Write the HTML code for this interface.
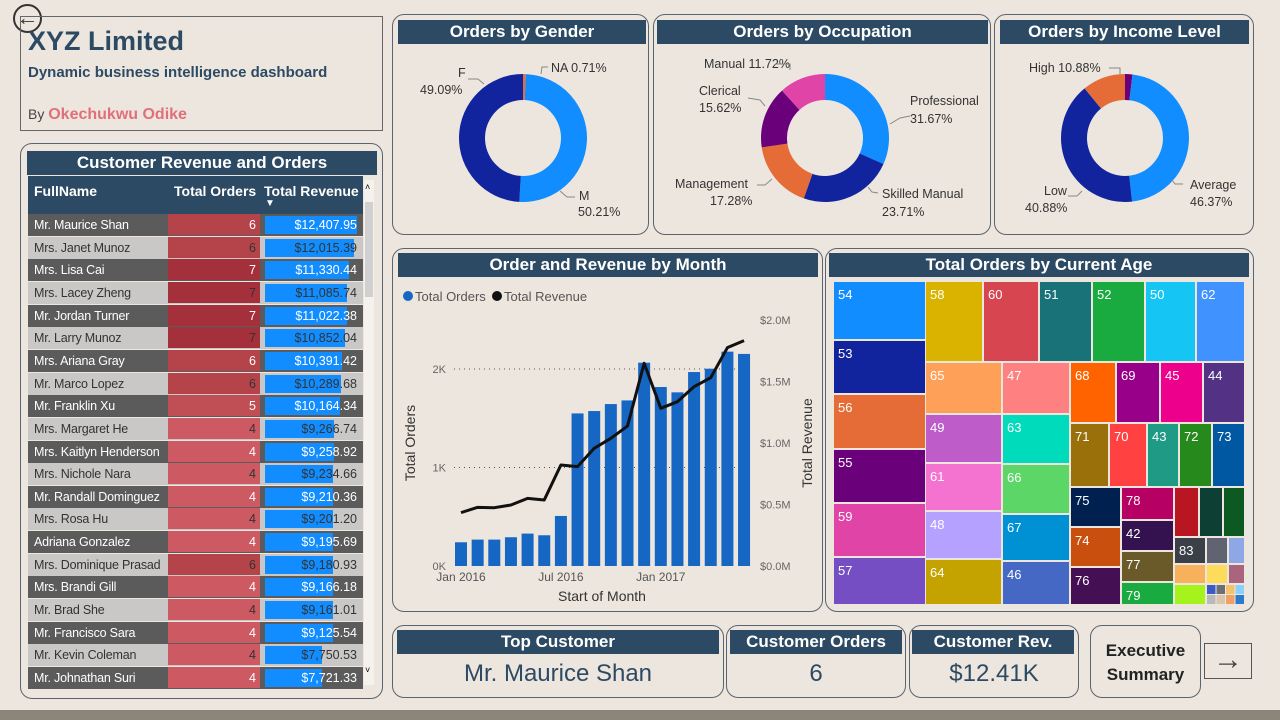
<!DOCTYPE html>
<html><head><meta charset="utf-8">
<style>
*{box-sizing:border-box;margin:0;padding:0}
body{width:1280px;height:720px;background:#ede6de;font-family:"Liberation Sans",sans-serif;position:relative;overflow:hidden}
.panel{position:absolute;border:1.5px solid #5a6470;border-radius:12px}
.hdr{position:absolute;background:#2c4a63;color:#fff;font-weight:bold;font-size:17px;text-align:center;line-height:24px}
.abs{position:absolute}
</style></head><body>
<div class="abs" style="left:0;top:710px;width:1280px;height:10px;background:#8c8579"></div>

<div class="abs" style="left:13px;top:4px;width:29px;height:29px;border:2px solid #333;border-radius:50%;font-size:22px;line-height:23px;text-align:center;color:#333">&#8592;</div>

<div class="panel" style="left:20px;top:16px;width:363px;height:115px;border-radius:0;border-color:#666">
  <div class="abs" style="left:7px;top:9px;font-size:27px;font-weight:bold;color:#2c4a63">XYZ Limited</div>
  <div class="abs" style="left:7px;top:47px;font-size:15px;font-weight:bold;color:#2c4a63">Dynamic business intelligence dashboard</div>
  <div class="abs" style="left:7px;top:89px;font-size:14px;color:#444">By <b style="color:#e0707a;font-size:16px">Okechukwu Odike</b></div>
</div>

<div class="panel" style="left:20px;top:143px;width:363px;height:556px"></div>
<div class="hdr" style="left:27px;top:151px;width:350px">Customer Revenue and Orders</div>
<div id="table" class="abs" style="left:28px;top:176px;width:335px;height:516px"></div>
<div class="abs" style="left:364px;top:180px;width:10px;height:505px;background:#f5f2ee"><div style="position:absolute;left:1px;top:22px;width:8px;height:95px;background:#d0d0d0"></div><div style="position:absolute;top:2px;left:1px;font-size:9px">&#708;</div><div style="position:absolute;bottom:10px;left:1px;font-size:9px">&#709;</div></div>

<div class="panel" style="left:392px;top:14px;width:257px;height:221px"></div>
<div class="hdr" style="left:398px;top:20px;width:248px">Orders by Gender</div>
<div class="panel" style="left:653px;top:14px;width:338px;height:221px"></div>
<div class="hdr" style="left:657px;top:20px;width:331px">Orders by Occupation</div>
<div class="panel" style="left:994px;top:14px;width:260px;height:221px"></div>
<div class="hdr" style="left:1000px;top:20px;width:249px">Orders by Income Level</div>
<svg id="donuts" class="abs" style="left:0;top:0" width="1280" height="240"></svg>

<div class="panel" style="left:392px;top:248px;width:431px;height:364px"></div>
<div class="hdr" style="left:398px;top:253px;width:420px">Order and Revenue by Month</div>
<svg id="combo" class="abs" style="left:392px;top:280px" width="430" height="330"></svg>

<div class="panel" style="left:825px;top:248px;width:429px;height:364px"></div>
<div class="hdr" style="left:829px;top:253px;width:420px">Total Orders by Current Age</div>
<svg id="tree" class="abs" style="left:0;top:0" width="1280" height="620"></svg>

<div class="panel" style="left:392px;top:625px;width:332px;height:73px"></div>
<div class="hdr" style="left:397px;top:630px;width:322px">Top Customer</div>
<div class="abs" style="left:392px;top:660px;width:332px;text-align:center;font-size:24px;color:#2c4a63">Mr. Maurice Shan</div>
<div class="panel" style="left:726px;top:625px;width:180px;height:73px"></div>
<div class="hdr" style="left:730px;top:630px;width:172px">Customer Orders</div>
<div class="abs" style="left:726px;top:660px;width:180px;text-align:center;font-size:24px;color:#2c4a63">6</div>
<div class="panel" style="left:909px;top:625px;width:170px;height:73px"></div>
<div class="hdr" style="left:912px;top:630px;width:162px">Customer Rev.</div>
<div class="abs" style="left:909px;top:660px;width:170px;text-align:center;font-size:24px;color:#2c4a63">$12.41K</div>

<div class="panel" style="left:1090px;top:625px;width:111px;height:73px;font-weight:bold;font-size:17px;text-align:center;padding-top:13px;line-height:24px;color:#222">Executive<br>Summary</div>
<div class="abs" style="left:1204px;top:643px;width:48px;height:36px;border:1.5px solid #555;font-size:30px;text-align:center;line-height:32px;color:#444">&#8594;</div>

<script>
const NS="http://www.w3.org/2000/svg";
function mk(p,t,a){const e=document.createElementNS(NS,t);for(const k in a)e.setAttribute(k,a[k]);p.appendChild(e);return e}

// ---------- table ----------
const custNames=["Mr. Maurice Shan","Mrs. Janet Munoz","Mrs. Lisa Cai","Mrs. Lacey Zheng","Mr. Jordan Turner","Mr. Larry Munoz","Mrs. Ariana Gray","Mr. Marco Lopez","Mr. Franklin Xu","Mrs. Margaret He","Mrs. Kaitlyn Henderson","Mrs. Nichole Nara","Mr. Randall Dominguez","Mrs. Rosa Hu","Adriana Gonzalez","Mrs. Dominique Prasad","Mrs. Brandi Gill","Mr. Brad She","Mr. Francisco Sara","Mr. Kevin Coleman","Mr. Johnathan Suri"];
const custOrders=[6,6,7,7,7,7,6,6,5,4,4,4,4,4,4,6,4,4,4,4,4];
const custRevenue=[12407.95,12015.39,11330.44,11085.74,11022.38,10852.04,10391.42,10289.68,10164.34,9266.74,9258.92,9234.66,9210.36,9201.20,9195.69,9180.93,9166.18,9161.01,9125.54,7750.53,7721.33];
const T=document.getElementById('table');
T.innerHTML='<div style="position:absolute;left:0;top:0;width:335px;height:38px;background:#2c4a63;color:#fff;font-weight:bold;font-size:14px"><span style="position:absolute;left:6px;top:7px">FullName</span><span style="position:absolute;left:146px;top:7px">Total Orders</span><span style="position:absolute;left:236px;top:7px">Total Revenue</span><span style="position:absolute;left:237px;top:22px;font-size:10px">&#9660;</span></div>';
const maxRev=Math.max(...custRevenue);
const redC={4:"#cd5a62",5:"#c04f55",6:"#b5444a",7:"#a3303a"};
custNames.forEach((n,i)=>{
  const y=38+i*22.65, dark=i%2==0, bg=dark?"#5b5b5b":"#c9c8c7", fc=dark?"#fff":"#333";
  const r=document.createElement('div');
  
  
  r.style.cssText=`position:absolute;left:0;top:${y}px;width:335px;height:22px;background:${bg};font-size:12.5px;color:${fc};line-height:22px`;
  const bw=92*custRevenue[i]/maxRev;
  r.innerHTML=`<span style="position:absolute;left:6px;letter-spacing:-0.2px">${n}</span><div style="position:absolute;left:140px;width:92px;height:21px;background:${redC[custOrders[i]]}"></div><span style="position:absolute;left:140px;width:88px;text-align:right">${custOrders[i]}</span><div style="position:absolute;left:237px;top:2px;width:${bw}px;height:18px;background:#118dff"></div><span style="position:absolute;left:237px;width:92px;text-align:right">$${custRevenue[i].toLocaleString('en-US',{minimumFractionDigits:2})}</span>`;
  T.appendChild(r);
});

// ---------- donuts ----------
const genderLabels=["NA","M","F"], genderValues=[0.71,50.21,49.09];
const occLabels=["Professional","Skilled Manual","Management","Clerical","Manual"], occValues=[31.67,23.71,17.28,15.62,11.72];
const incLabels=["Very High","Average","Low","High"], incValues=[1.87,46.37,40.88,10.88];
const D=document.getElementById('donuts');
function donut(cx,cy,R,r,vals,cols,name){
  const tot=vals.reduce((a,b)=>a+b,0);let a0=0;
  vals.forEach((v,i)=>{
    const a1=a0+v/tot*2*Math.PI;
    const p=(a,rad)=>[cx+rad*Math.sin(a),cy-rad*Math.cos(a)];
    const [x0,y0]=p(a0,R),[x1,y1]=p(a1,R),[x2,y2]=p(a1,r),[x3,y3]=p(a0,r);
    const lg=(a1-a0)>Math.PI?1:0;
    const s=mk(D,'path',{d:`M${x0},${y0}A${R},${R} 0 ${lg} 1 ${x1},${y1}L${x2},${y2}A${r},${r} 0 ${lg} 0 ${x3},${y3}Z`,fill:cols[i]});
    
    
    a0=a1;
  });
}
donut(523,138,64,38,genderValues,["#e66c37","#118dff","#12239e"],'gender');
donut(825,138,64,38,occValues,["#118dff","#12239e","#e66c37","#6b007b","#e044a7"],'occupation');
donut(1125,138,64,38,incValues,["#6b007b","#118dff","#12239e","#e66c37"],'income');
const dl=[[458,77,"F"],[420,94,"49.09%"],[551,72,"NA 0.71%"],[579,200,"M"],[578,216,"50.21%"],
[704,68,"Manual 11.72%"],[699,95,"Clerical"],[699,112,"15.62%"],[910,105,"Professional"],[910,123,"31.67%"],
[675,188,"Management"],[710,205,"17.28%"],[882,198,"Skilled Manual"],[882,216,"23.71%"],
[1029,72,"High 10.88%"],[1190,189,"Average"],[1190,206,"46.37%"],[1044,195,"Low"],[1025,212,"40.88%"]];
dl.forEach(d=>{const t=mk(D,'text',{x:d[0],y:d[1],'font-size':12.5,fill:'#333'});t.textContent=d[2];

});
const leaders=["M468,79 L478,79 L484,84","M548,67 L542,67 L541,74","M560,191 L567,197 L575,197","M775,64 L790,64 L790,70","M748,98 L760,100 L765,106","M910,116 L900,118 L890,124","M757,185 L765,185 L772,179","M878,193 L872,192 L868,187","M1109,68 L1120,68 L1120,74","M1183,184 L1175,184 L1172,180","M1068,196 L1077,196 L1082,191"];
leaders.forEach(d=>{const l=mk(D,'path',{d:d,fill:'none',stroke:'#888','stroke-width':1});
});

// ---------- combo chart ----------
const months=["Jan 2016","Feb 2016","Mar 2016","Apr 2016","May 2016","Jun 2016","Jul 2016","Aug 2016","Sep 2016","Oct 2016","Nov 2016","Dec 2016","Jan 2017","Feb 2017","Mar 2017","Apr 2017","May 2017","Jun 2017"];
const orders=[241,268,268,292,329,312,508,1549,1573,1644,1681,2064,1817,1763,1969,2003,2176,2153];
const revenueM=[0.434,0.477,0.474,0.496,0.550,0.537,0.821,0.808,0.957,1.038,1.138,1.648,1.282,1.336,1.458,1.531,1.775,1.832];
const leftTicks=[0,1000,2000], leftTickLabels=["0K","1K","2K"];
const rightTicks=[0,0.5,1.0,1.5,2.0], rightTickLabels=["$0.0M","$0.5M","$1.0M","$1.5M","$2.0M"];
const xLabelIdx=[0,6,12], xLabelText=["Jan 2016","Jul 2016","Jan 2017"];
const C=document.getElementById('combo');
const base=286, yL=v=>base-v*0.0985, yR=v=>base-v*123, xC=i=>69+i*16.65;
leftTicks.forEach((t,i)=>{const y=yL(t);
 if(t>0){const g=mk(C,'line',{x1:62,x2:360,y1:y,y2:y,stroke:'#555','stroke-dasharray':'1 4'});}
 const tx=mk(C,'text',{x:54,y:y+4,'font-size':11,fill:'#666','text-anchor':'end'});tx.textContent=leftTickLabels[i];
 });
rightTicks.forEach((t,i)=>{const tx=mk(C,'text',{x:368,y:yR(t)+4,'font-size':11,fill:'#666'});tx.textContent=rightTickLabels[i];
 });
orders.forEach((v,i)=>{const b=mk(C,'rect',{x:xC(i)-6,y:yL(v),width:12,height:base-yL(v),fill:'#1666c3'});
 
 });
const pl=mk(C,'polyline',{points:revenueM.map((v,i)=>xC(i)+','+yR(v)).join(' '),fill:'none',stroke:'#111','stroke-width':3,'stroke-linejoin':'round'});

xLabelIdx.forEach((ix,k)=>{const t=mk(C,'text',{x:xC(ix),y:301,'font-size':12,fill:'#555','text-anchor':'middle'});t.textContent=xLabelText[k];
 });
let t=mk(C,'text',{x:210,y:321,'font-size':14,fill:'#333','text-anchor':'middle'});t.textContent="Start of Month";

t=mk(C,'text',{transform:'translate(23,163) rotate(-90)','font-size':14,fill:'#333','text-anchor':'middle'});t.textContent="Total Orders";

t=mk(C,'text',{transform:'translate(420,163) rotate(-90)','font-size':14,fill:'#333','text-anchor':'middle'});t.textContent="Total Revenue";

let c=mk(C,'circle',{cx:16,cy:16,r:5,fill:'#1666c3'});
t=mk(C,'text',{x:23,y:21,'font-size':13,fill:'#555'});t.textContent="Total Orders";
c=mk(C,'circle',{cx:105,cy:16,r:5,fill:'#111'});
t=mk(C,'text',{x:112,y:21,'font-size':13,fill:'#555'});t.textContent="Total Revenue";

// ---------- treemap ----------
const ageLabels=["54","53","56","55","59","57","58","60","51","52","50","62","65","49","61","48","64","47","63","66","67","46","68","69","45","44","71","70","43","72","73","75","74","76","78","42","77","79","a","b","c","83","d","e","f","g","h","i"];
const ageColors=["#118dff","#12239e","#e66c37","#6b007b","#e044a7","#744ec2","#d9b300","#d64550","#197278","#1aab40","#15c6f4","#4092ff","#ffa058","#be5dc9","#f472d0","#b5a1ff","#c4a200","#ff8080","#00dbbc","#5bd667","#0091d5","#4668c5","#ff6300","#99008a","#ec008c","#533285","#99700a","#ff4141","#1f9a85","#25891c","#0057a2","#002050","#c94f0f","#450f54","#b60064","#34124f","#6a5a29","#1aab40","#b81620","#0d3f35","#0c5a22","#3a3f48","#5f6470","#8ea7e6","#f7b05b","#fddc5c","#a8657b","#a6f21c"];
const ageRects=[[834,282,925,339],[834,341,925,393],[834,395,925,448],[834,450,925,502],[834,504,925,556],[834,558,925,604],
[926,282,982,361],[984,282,1038,361],[1040,282,1091,361],[1093,282,1144,361],[1146,282,1195,361],[1197,282,1244,361],
[926,363,1001,413],[926,415,1001,462],[926,464,1001,510],[926,512,1001,558],[926,560,1001,604],
[1003,363,1069,413],[1003,415,1069,463],[1003,465,1069,513],[1003,515,1069,560],[1003,562,1069,604],
[1071,363,1115,422],[1117,363,1159,422],[1161,363,1202,422],[1204,363,1244,422],
[1071,424,1108,486],[1110,424,1146,486],[1148,424,1178,486],[1180,424,1211,486],[1213,424,1244,486],
[1071,488,1120,526],[1071,528,1120,566],[1071,568,1120,604],[1122,488,1173,519],[1122,521,1173,550],[1122,552,1173,581],[1122,583,1173,604],
[1175,488,1198,536],[1200,488,1222,536],[1224,488,1244,536],[1175,538,1205,563],[1207,538,1227,563],[1229,538,1244,563],
[1175,565,1205,583],[1207,565,1227,583],[1229,565,1244,583],[1175,585,1205,604]];
const TR=document.getElementById('tree');
ageRects.forEach((r,i)=>{
 const e=mk(TR,'rect',{x:r[0],y:r[1],width:r[2]-r[0],height:r[3]-r[1],fill:ageColors[i]});
 
 
 if(/^\d+$/.test(ageLabels[i])){const tt=mk(TR,'text',{x:r[0]+4,y:r[1]+17,'font-size':13,fill:'#fff'});tt.textContent=ageLabels[i];
 }
});
const small=["#3b5bc2","#6a6f7a","#f3c26a","#8bd0ff","#b9b9b9","#d9c4ad","#f0a060","#2a7ad0"];
for(let k=0;k<8;k++){const e=mk(TR,'rect',{x:1207+(k%4)*9.5,y:585+Math.floor(k/4)*10,width:8.5,height:9,fill:small[k]});
 }
</script>
</body></html>
